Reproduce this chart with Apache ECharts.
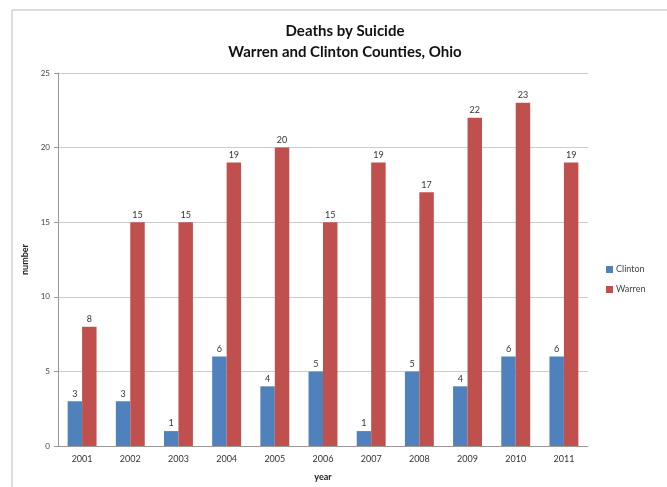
<!DOCTYPE html>
<html>
<head>
<meta charset="utf-8">
<script src="https://cdn.jsdelivr.net/npm/echarts@6/dist/echarts.min.js"></script>
<style>
  html, body { margin: 0; padding: 0; background: #fff; }
  #chart { width: 667px; height: 487px; }
</style>
</head>
<body>
<div id="chart"></div>
<script>
const years = ['2001', '2002', '2003', '2004', '2005', '2006', '2007', '2008', '2009', '2010', '2011'];
const clinton = [3, 3, 1, 6, 4, 5, 1, 5, 4, 6, 6];
const warren = [8, 15, 15, 19, 20, 15, 19, 17, 22, 23, 19];

const chart = echarts.init(document.getElementById('chart'));

// etiqueta encima de cada barra
const topLabel = {
    show: true,
    position: 'top',
    distance: 3,
    fontSize: 9,
    color: '#333',
    fontFamily: 'Lato'
};

const option = {
    animation: false,
    backgroundColor: '#fff',
    graphic: [{
        type: 'rect',
        shape: { x: 12, y: 10, width: 700, height: 500 },
        style: { fill: 'none', stroke: '#bbb', lineWidth: 1 },
        silent: true
    }],
    title: {
        text: 'Deaths by Suicide\nWarren and Clinton Counties, Ohio',
        left: 340,
        textAlign: 'center',
        top: 16,
        textStyle: {
            fontFamily: 'Lato',
            fontWeight: 'bold',
            fontSize: 15,
            lineHeight: 21,
            color: '#111'
        }
    },
    legend: {
        orient: 'vertical',
        left: 601,
        top: 260,
        itemWidth: 7,
        itemHeight: 7,
        itemGap: 11,
        icon: 'rect',
        textStyle: { fontSize: 9, color: '#444', fontFamily: 'Lato', padding: [0, 0, 0, -2] },
        data: ['Clinton', 'Warren']
    },
    grid: {
        left: 58,
        right: 79,
        top: 73,
        bottom: 40
    },
    xAxis: {
        type: 'category',
        data: years,
        name: 'year',
        nameLocation: 'middle',
        nameGap: 27,
        nameTextStyle: { fontSize: 9, fontWeight: 'bold', color: '#222', fontFamily: 'Lato' },
        axisLine: { lineStyle: { color: '#999' } },
        axisTick: { show: false },
        axisLabel: { fontSize: 9, color: '#333', margin: 9, fontFamily: 'Lato' }
    },
    yAxis: {
        type: 'value',
        min: 0,
        max: 25,
        interval: 5,
        name: 'number',
        nameLocation: 'middle',
        nameGap: 27,
        nameTextStyle: { fontSize: 9, fontWeight: 'bold', color: '#222', fontFamily: 'Lato' },
        axisLine: { show: true, lineStyle: { color: '#999' } },
        axisTick: { show: true, length: 4, lineStyle: { color: '#999' } },
        axisLabel: { fontSize: 8, color: '#444', margin: 8, fontFamily: 'Lato' },
        splitLine: { lineStyle: { color: '#ccc' } }
    },
    series: [
        {
            name: 'Clinton',
            type: 'bar',
            data: clinton,
            barGap: '0%',
            barCategoryGap: '40%',
            itemStyle: { color: '#4f81bd' },
            label: topLabel
        },
        {
            name: 'Warren',
            type: 'bar',
            data: warren,
            itemStyle: { color: '#c0504d' },
            label: topLabel
        }
    ]
};

chart.setOption(option);
</script>
</body>
</html>
